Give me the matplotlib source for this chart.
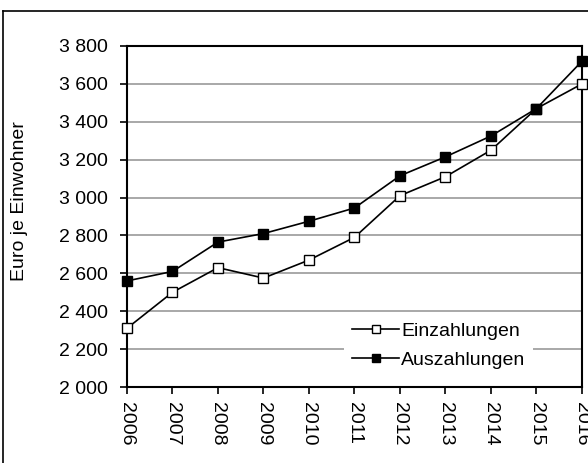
import matplotlib.pyplot as plt
from matplotlib.lines import Line2D

plt.rcParams['font.family'] = ['Liberation Sans', 'DejaVu Sans']

## Data
jahre = [2006, 2007, 2008, 2009, 2010, 2011, 2012, 2013, 2014, 2015, 2016]
einzahlungen = [2310, 2500, 2630, 2575, 2670, 2790, 3010, 3110, 3250, 3470, 3600]
auszahlungen = [2560, 2610, 2765, 2810, 2875, 2945, 3115, 3215, 3325, 3470, 3720]
yticks = [2000, 2200, 2400, 2600, 2800, 3000, 3200, 3400, 3600, 3800]
ytick_labels = ["2 000", "2 200", "2 400", "2 600", "2 800", "3 000",
                "3 200", "3 400", "3 600", "3 800"]

fig = plt.figure(figsize=(5.88, 4.63), dpi=100)
ax = fig.add_axes([127 / 588, 76 / 463, 455 / 588, 341 / 463])

# outer frame (only left and top visible)
fig.add_artist(Line2D([3 / 588, 3 / 588], [0, 1 - 11 / 463], color='black', lw=1.2))
fig.add_artist(Line2D([3 / 588, 1], [1 - 11 / 463, 1 - 11 / 463], color='black', lw=1.2))

ax.plot(jahre, einzahlungen, color='black', lw=1.2, marker='s', markersize=7,
        markerfacecolor='white', markeredgecolor='black', markeredgewidth=1,
        label="Einzahlungen", zorder=3, clip_on=False)
ax.plot(jahre, auszahlungen, color='black', lw=1.2, marker='s', markersize=7,
        markerfacecolor='black', markeredgecolor='black', markeredgewidth=1,
        label="Auszahlungen", zorder=3, clip_on=False)

ax.set_xlim(2006, 2016)
ax.set_ylim(2000, 3800)
ax.set_yticks(yticks)
ax.set_yticklabels(ytick_labels)
ax.set_xticks(jahre)
ax.set_xticklabels([str(j) for j in jahre], rotation=270)
ax.tick_params(axis='both', labelsize=14, length=5, width=1.2, direction='out', colors='black')
ax.tick_params(axis='y', pad=8.5)
ax.tick_params(axis='x', pad=6)

for y in yticks[1:-1]:
    ax.axhline(y, color='#999999', lw=1.2, zorder=1)

for s in ax.spines.values():
    s.set_linewidth(1.5)
    s.set_color('black')

fig.text(20 / 588, 1 - 201 / 463, "Euro je Einwohner", rotation=90,
         ha='center', va='center', fontsize=14)

leg = ax.legend(loc='center', bbox_to_anchor=(0.685, 0.122), frameon=True,
                fontsize=14, handlelength=2.45, handletextpad=0.1,
                labelspacing=0.58, borderpad=0.4, markerscale=0.75)
leg.get_frame().set_edgecolor('none')
leg.get_frame().set_facecolor('white')
leg.get_frame().set_alpha(1)
leg.set_zorder(2)

plt.savefig("out.png", dpi=100)
